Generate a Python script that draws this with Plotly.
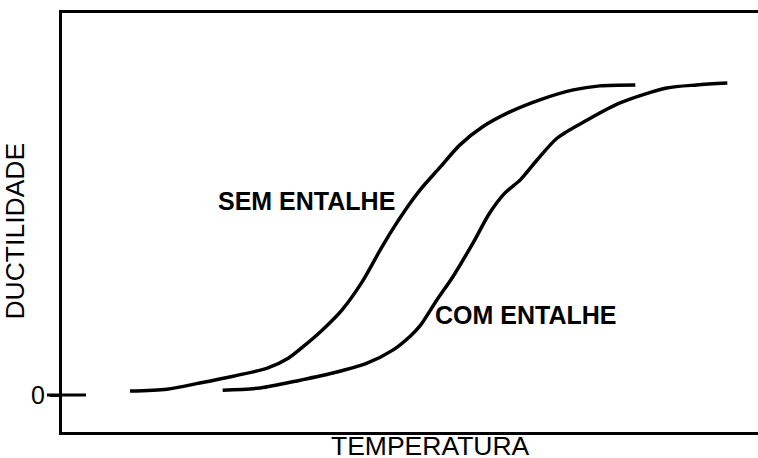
import plotly.graph_objects as go

# Data (temperature in arbitrary units, ductility in % of upper shelf)
sem_temp = [9.9, 15.2, 19.9, 24.7, 29.6, 32.6, 35.0, 37.5, 40.3, 43.2, 45.8, 47.5,
            49.4, 51.5, 54.4, 57.2, 60.5, 64.4, 68.7, 73.5, 77.3, 82.4]
sem_duct = [1.3, 1.9, 3.9, 6.1, 8.7, 11.9, 16.1, 21.0, 27.4, 36.5, 46.8, 53.2,
            59.7, 66.1, 73.5, 80.6, 86.5, 91.3, 95.2, 98.4, 99.7, 100.0]

com_temp = [23.2, 28.6, 34.3, 39.0, 43.9, 47.6, 50.1, 51.5, 53.9, 56.2, 59.1, 61.5,
            63.7, 65.9, 68.3, 71.2, 75.5, 80.2, 86.9, 91.2, 95.6]
com_duct = [1.6, 2.3, 4.8, 7.1, 10.3, 14.5, 19.0, 22.3, 30.6, 38.1, 49.0, 58.7,
            65.2, 69.4, 75.8, 82.9, 88.7, 94.2, 99.0, 100.0, 100.6]

y_tickvals = [0]
y_ticktext = ["0"]

label_sem = "SEM ENTALHE"
label_com = "COM ENTALHE"
x_title = "TEMPERATURA"
y_title = "DUCTILIDADE"

FONT = "Arial, Liberation Sans, sans-serif"

fig = go.Figure()
for xs, ys in [(sem_temp, sem_duct), (com_temp, com_duct)]:
    fig.add_trace(go.Scatter(x=xs, y=ys, mode="lines",
                             line=dict(color="black", width=3.5, shape="spline", smoothing=0.8),
                             hoverinfo="skip", showlegend=False))

fig.update_layout(
    width=758, height=458,
    margin=dict(l=62, r=0, t=13, b=26),
    paper_bgcolor="white", plot_bgcolor="white",
    font=dict(family=FONT, color="black", size=25),
    showlegend=False,
    xaxis=dict(range=[0.14, 100], showgrid=False, zeroline=False, showticklabels=False,
               ticks="", showline=True, linecolor="black", linewidth=3, mirror=True),
    yaxis=dict(range=[-11.9, 123.2], showgrid=False, zeroline=False,
               tickvals=y_tickvals, ticktext=y_ticktext, ticks="outside", ticklen=9,
               tickwidth=3, tickcolor="black", tickfont=dict(size=25, family=FONT),
               showline=True, linecolor="black", linewidth=3, mirror=False),
    shapes=[dict(type="line", xref="paper", yref="y", x0=-0.0216, x1=0.0345,
                 y0=y_tickvals[0], y1=y_tickvals[0], line=dict(color="black", width=3))],
    annotations=[
        dict(text="<b>" + label_sem + "</b>", x=48.2, y=62.6, xref="x", yref="y", xanchor="right",
             yanchor="middle", showarrow=False, font=dict(size=25, family=FONT)),
        dict(text="<b>" + label_com + "</b>", x=53.4, y=25.8, xref="x", yref="y", xanchor="left",
             yanchor="middle", showarrow=False, font=dict(size=25, family=FONT)),
        dict(text=x_title, x=0.529, y=-0.034, xref="paper", yref="paper",
             xanchor="center", yanchor="middle", showarrow=False, font=dict(size=26.5, family=FONT)),
        dict(text=y_title, x=-0.068, y=0.48, xref="paper", yref="paper", textangle=-90,
             xanchor="center", yanchor="middle", showarrow=False, font=dict(size=26.5, family=FONT)),
    ],
)

fig.write_html("out.html", config={"displayModeBar": False},
               post_script="document.body.style.margin='0px';")
